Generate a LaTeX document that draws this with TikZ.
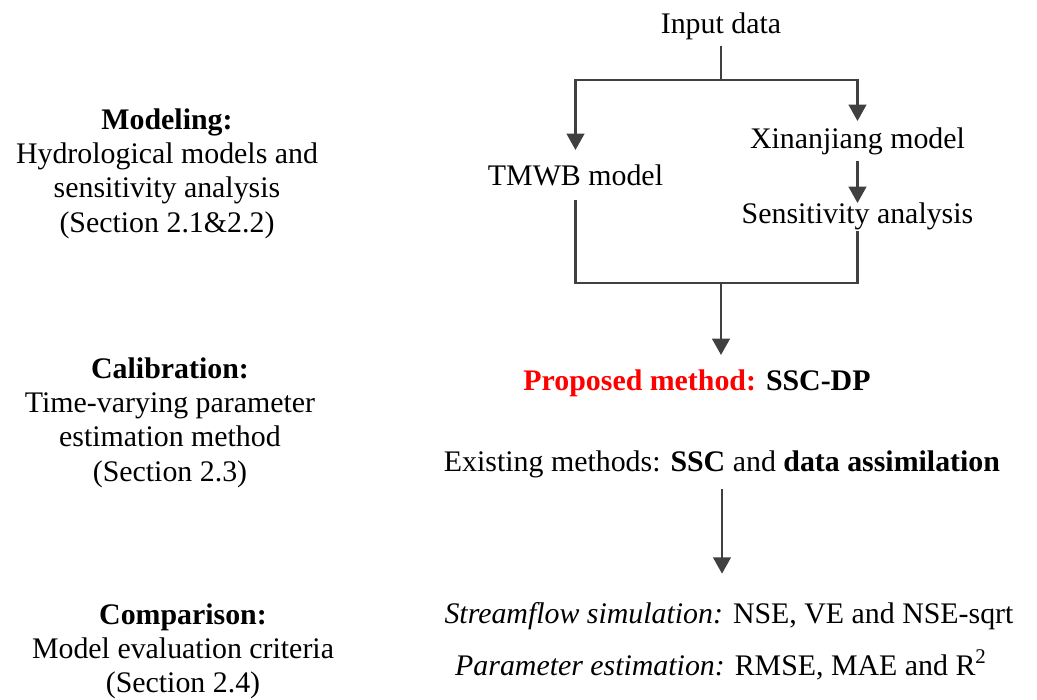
\documentclass[tikz,border=0pt]{standalone}
\usepackage{fontspec}
\setmainfont{Liberation Serif}
\usepackage{xcolor}
\usepackage{tikz}
\usetikzlibrary{arrows.meta}

\definecolor{linegray}{HTML}{404040}
\definecolor{propred}{HTML}{FF0000}

\begin{document}
\begin{tikzpicture}[
    every node/.style={font=\fontsize{17pt}{19.6pt}\selectfont},
    phase/.style={align=center, anchor=north, inner sep=0pt},
    flow/.style={anchor=base},
    link/.style={draw=linegray, line width=1.7pt},
    arrow/.style={link, -{Triangle[length=3.3mm, width=3.5mm]}}
]
\useasboundingbox (0,0) rectangle (20.74,-14);

% stages on the left
\node[phase] (modeling) at (3.34,-2.16) {\textbf{Modeling:}\\Hydrological models and\\sensitivity analysis\\(Section 2.1\&2.2)};
\node[phase] (calibration) at (3.40,-7.14) {\textbf{Calibration:}\\Time-varying parameter\\estimation method\\(Section 2.3)};
\node[phase] (comparison) at (3.66,-12.06) {\textbf{Comparison:}\\Model evaluation criteria\\(Section 2.4)};

% flow on the right
\node[flow] (input) at (14.42,-0.66) {Input data};
\node[flow] (tmwb) at (11.51,-3.70) {TMWB model};
\node[flow] (xin) at (17.15,-2.96) {Xinanjiang model};
\node[flow] (sens) at (17.15,-4.46) {Sensitivity analysis};
\node[flow] (proposed) at (13.94,-7.80) {\bfseries\textcolor{propred}{Proposed method:} SSC-DP};
\node[flow] (existing) at (14.44,-9.42) {Existing methods: \textbf{SSC} and \textbf{data assimilation}};
\node[flow] (stream) at (14.58,-12.46) {{\itshape Streamflow simulation:} NSE, VE and NSE-sqrt};
\node[flow] (param) at (14.42,-13.50) {{\itshape Parameter estimation:} RMSE, MAE and R\textsuperscript{2}};

\coordinate (split) at (14.42,-1.60);
\coordinate (merge) at (14.42,-5.66);

\draw[link] (input) -- (split);
\draw[arrow, shorten >=1.6mm] (split) -| (tmwb);
\draw[arrow] (split) -| (xin);
\draw[arrow, shorten >=-1.4mm] (xin) -- (sens);
\draw[link, shorten <=1.7mm, shorten >=-0.9mm] (tmwb.south) |- (merge) -| (sens.south);
\draw[arrow, shorten >=1.6mm] (merge) -- (merge |- proposed.north);
\draw[arrow, shorten <=1.1mm, shorten >=4.4mm] (existing) -- (existing |- stream.north);
\end{tikzpicture}
\end{document}
